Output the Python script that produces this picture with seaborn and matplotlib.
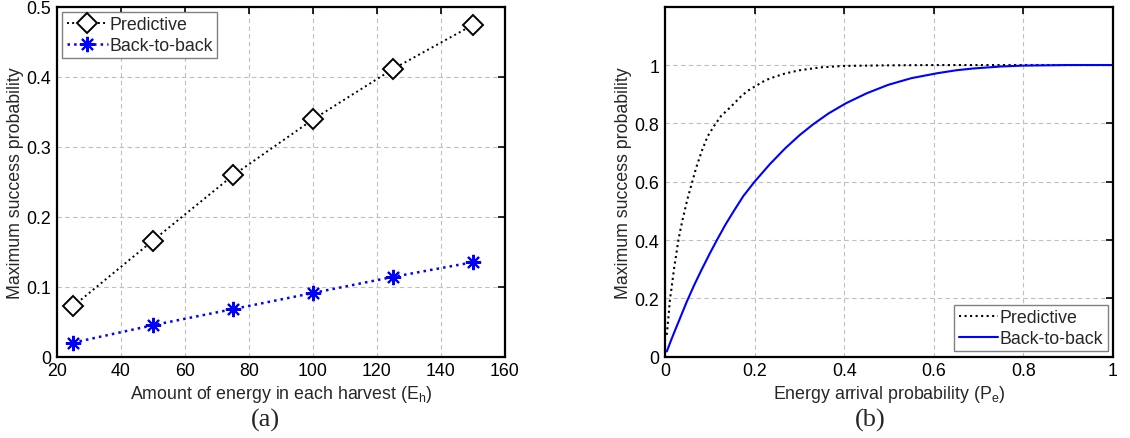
import numpy as np
import matplotlib
matplotlib.use('Agg')
import matplotlib.pyplot as plt
from matplotlib.ticker import FuncFormatter
import seaborn as sns

# (a) success probability vs harvest size
harvest = [25, 50, 75, 100, 125, 150]
pred_a = [0.072, 0.166, 0.259, 0.339, 0.411, 0.474]
b2b_a = [0.020, 0.045, 0.068, 0.091, 0.114, 0.135]

# (b) success probability vs energy arrival probability
pe_pred = [0.004, 0.008, 0.011, 0.015, 0.02, 0.025, 0.03, 0.035, 0.04, 0.05, 0.06,
           0.07, 0.083, 0.095, 0.109, 0.125, 0.147, 0.17, 0.185, 0.2, 0.22, 0.234,
           0.268, 0.3, 0.347, 0.4, 0.5, 0.6, 0.8, 1.0]
pred_b = [0.075, 0.14, 0.195, 0.24, 0.30, 0.35, 0.40, 0.44, 0.475, 0.54, 0.595,
          0.65, 0.709, 0.755, 0.79, 0.825, 0.857, 0.893, 0.912, 0.926, 0.944, 0.954,
          0.971, 0.982, 0.992, 0.997, 0.999, 1.0, 1.0, 1.0]
pe_b2b = [0.004, 0.015, 0.025, 0.037, 0.049, 0.065, 0.08, 0.1, 0.117, 0.135, 0.155,
          0.175, 0.2, 0.234, 0.268, 0.3, 0.33, 0.365, 0.404, 0.45, 0.498, 0.55,
          0.608, 0.65, 0.687, 0.75, 0.8, 0.9, 1.0]
b2b_b = [0.018, 0.062, 0.10, 0.145, 0.19, 0.245, 0.293, 0.354, 0.403, 0.453, 0.503,
         0.551, 0.60, 0.66, 0.714, 0.759, 0.796, 0.834, 0.869, 0.903, 0.932, 0.955,
         0.972, 0.982, 0.988, 0.995, 0.998, 1.0, 1.0]

sns.set_style('white')
plt.rcParams['font.family'] = ['Liberation Sans', 'DejaVu Sans']
plt.rcParams['mathtext.fontset'] = 'custom'
plt.rcParams['mathtext.rm'] = 'Liberation Sans'
plt.rcParams['mathtext.it'] = 'Liberation Sans'

fig = plt.figure(figsize=(11.30, 4.39), dpi=100)
ax1 = fig.add_axes([57 / 1130, 1 - 357.7 / 439, 448 / 1130, 350 / 439])
ax2 = fig.add_axes([665 / 1130, 1 - 357.7 / 439, 448 / 1130, 350 / 439])

fs = 12.8

sns.lineplot(x=harvest, y=pred_a, ax=ax1, color='black', linestyle=':', lw=1.4,
             marker='D', markersize=10.5, markerfacecolor='white',
             markeredgecolor='black', markeredgewidth=1.4, label='Predictive')
sns.lineplot(x=harvest, y=b2b_a, ax=ax1, color='blue', linestyle=':', lw=1.8,
             marker=(8, 2, 0), markersize=11, markeredgecolor='blue',
             markeredgewidth=1.5, label='Back-to-back')

sns.lineplot(x=pe_pred, y=pred_b, ax=ax2, color='black', linestyle=':', lw=1.5,
             label='Predictive')
sns.lineplot(x=pe_b2b, y=b2b_b, ax=ax2, color='blue', linestyle='-', lw=1.5,
             label='Back-to-back')

ax1.set_xlim(20, 160)
ax1.set_ylim(0, 0.5)
ax1.set_xticks(np.arange(20, 161, 20))
ax1.set_yticks(np.arange(0, 0.51, 0.1))
ax1.yaxis.set_major_formatter(FuncFormatter(lambda v, p: '%g' % round(v, 2)))

ax2.set_xlim(0, 1)
ax2.set_ylim(0, 1.2)
ax2.set_xticks(np.arange(0, 1.01, 0.2))
ax2.set_yticks(np.arange(0, 1.01, 0.2))
ax2.xaxis.set_major_formatter(FuncFormatter(lambda v, p: '%g' % round(v, 2)))
ax2.yaxis.set_major_formatter(FuncFormatter(lambda v, p: '%g' % round(v, 2)))

ax1.set_xlabel(r'Amount of energy in each harvest (E$_\mathregular{h}$)', fontsize=fs, labelpad=3)
ax2.set_xlabel(r'Energy arrival probability (P$_\mathregular{e}$)', fontsize=fs, labelpad=3)
for ax in (ax1, ax2):
    ax.set_ylabel('Maximum success probability', fontsize=fs)
    ax.yaxis.set_label_coords(-33 / 448, 0.5)
    ax.grid(True, color='#c0c0c0', linestyle=(0, (4, 3)), linewidth=0.8)
    ax.tick_params(direction='in', length=5, width=1.2, top=True, right=True,
                   labelsize=fs, pad=4, colors='black')
    for s in ax.spines.values():
        s.set_linewidth(1.6)
        s.set_color('black')
    ax.set_axisbelow(True)

leg1 = ax1.legend(loc='upper left', fontsize=12.8, frameon=True, fancybox=False,
                  borderpad=0.25, labelspacing=0.2, handlelength=2.3,
                  handletextpad=0.1, borderaxespad=0.3)
leg2 = ax2.legend(loc='lower right', fontsize=12.8, frameon=True, fancybox=False,
                  borderpad=0.25, labelspacing=0.2, handlelength=2.2,
                  handletextpad=0.1, borderaxespad=0.3)
for leg in (leg1, leg2):
    leg.get_frame().set_edgecolor('#808080')
    leg.get_frame().set_linewidth(1.0)
    leg.get_frame().set_alpha(1)

fig.text(265 / 1130, 1 - 420 / 439, '(a)', ha='center', va='center',
         fontsize=19, family=['Liberation Serif', 'DejaVu Serif'])
fig.text(870 / 1130, 1 - 420 / 439, '(b)', ha='center', va='center',
         fontsize=19, family=['Liberation Serif', 'DejaVu Serif'])

fig.savefig('out.png', dpi=100)
